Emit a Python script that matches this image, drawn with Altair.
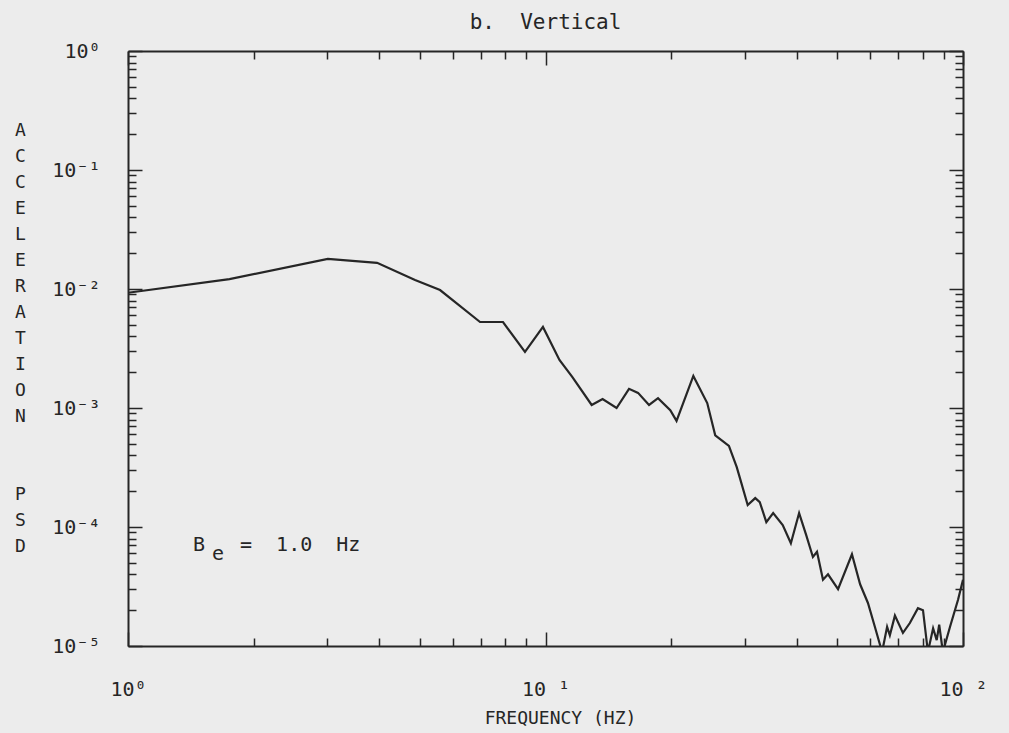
import altair as alt
import pandas as pd

# ---- data ----
freq = [1.0, 1.75, 3.01, 3.95, 4.87, 5.59, 6.97, 7.91, 8.93, 9.86, 10.8, 11.6,
        12.9, 13.7, 14.8, 15.85, 16.66, 17.7, 18.6, 19.9, 20.6, 22.6, 24.4, 25.5,
        27.5, 28.7, 29.2, 30.5, 31.8, 32.6, 33.8, 35.1, 37.0, 38.7, 40.5, 42.1,
        43.7, 44.7, 46.2, 47.5, 50.2, 54.2, 56.7, 59.2, 61.5, 64.0, 65.8, 66.8,
        68.7, 71.8, 74.6, 78.0, 80.2, 82.4, 84.8, 86.5, 87.7, 89.5, 93.1, 97.3, 100.0]
psd = [0.0093, 0.0121, 0.0179, 0.0166, 0.0119, 0.0098, 0.00528, 0.00528, 0.00296,
       0.0048, 0.00253, 0.00182, 0.00106, 0.00119, 0.00100, 0.00145, 0.00134,
       0.00106, 0.00121, 0.00096, 0.00078, 0.00186, 0.00110, 0.00059, 0.00048,
       0.00032, 0.00026, 0.000153, 0.000175, 0.000162, 0.000110, 0.000131,
       0.000104, 0.000073, 0.000131, 0.000086, 0.000056, 0.000062, 0.000036,
       0.000040, 0.000030, 0.000059, 0.000033, 0.000023, 0.0000145, 0.0000089,
       0.0000145, 0.0000123, 0.0000180, 0.0000129, 0.0000156, 0.0000208,
       0.0000200, 0.0000089, 0.0000141, 0.0000112, 0.0000151, 0.0000089,
       0.0000145, 0.0000245, 0.0000360]

x_domain = [1, 100]
y_domain = [1e-5, 1]
x_decades = [0, 1]
y_decades = [-5, -4, -3, -2, -1]
x_tick_labels = {1: "10\u2070", 10: "10 \u00b9", 100: "10 \u00b2"}
y_tick_labels = {1: "10\u2070", 0.1: "10\u207b\u00b9", 0.01: "10\u207b\u00b2",
                 0.001: "10\u207b\u00b3", 0.0001: "10\u207b\u2074", 0.00001: "10\u207b\u2075"}

chart_title = "b.\u00a0\u00a0Vertical"
x_title = "FREQUENCY (HZ)"
y_title = ["A", "C", "C", "E", "L", "E", "R", "A", "T", "I", "O", "N",
           "\u2800", "\u2800", "P", "S", "D"]
note_x = [1.431]
note_y = [7.06e-5]

# ---- styling ----
ink = "#262626"
bg = "#ececec"
font = "DejaVu Sans Mono"

xticks = [m * 10 ** e for e in x_decades for m in range(1, 10)] + [100]
yticks = [m * 10.0 ** e for e in y_decades for m in range(1, 10)] + [1]

df = pd.DataFrame({"freq": freq, "psd": psd})
notes = pd.DataFrame({"x": note_x, "y": note_y})

MAJOR = "abs(log(datum.value)/LN10 - round(log(datum.value)/LN10)) < 0.001"


def tsize(maj, mnr):
    return {"condition": {"test": MAJOR, "value": -maj}, "value": -mnr}


def label_expr(d):
    parts = [f"datum.value == {k} ? '{v}'" for k, v in d.items()]
    return " : ".join(parts) + " : ''"


xs = alt.Scale(type="log", domain=x_domain, nice=False)
ys = alt.Scale(type="log", domain=y_domain, nice=False)

common = dict(tickColor=ink, tickWidth=1.5, domain=True, domainColor=ink,
              domainWidth=2, grid=False, labelOverlap=False, labelFlush=False)

x_bottom = alt.Axis(orient="bottom", values=xticks, labelExpr=label_expr(x_tick_labels),
                    tickSize=tsize(14, 8), labelPadding=47, labelFont=font,
                    labelFontSize=20, labelColor=ink, title=x_title, titleFont=font,
                    titleFontSize=18, titleFontWeight="normal", titleColor=ink,
                    titleX=432, titleY=72, titleBaseline="middle", titleAlign="center",
                    **common)
y_left = alt.Axis(orient="left", values=yticks, labelExpr=label_expr(y_tick_labels),
                  tickSize=tsize(14, 8), labelPadding=42, labelFont=font,
                  labelFontSize=20, labelColor=ink, title=y_title, titleFont=font,
                  titleFontSize=18, titleFontWeight="normal", titleColor=ink,
                  titleAngle=0, titleX=-108, titleY=79, titleAlign="center",
                  titleBaseline="middle", titleLineHeight=26, **common)
x_top = alt.Axis(orient="top", values=xticks, labels=False, tickSize=tsize(14, 8),
                 title=None, **common)
y_right = alt.Axis(orient="right", values=yticks, labels=False, tickSize=tsize(14, 8),
                   title=None, **common)

line = alt.Chart(df).mark_line(color=ink, strokeWidth=2.2, clip=True).encode(
    x=alt.X("freq:Q", scale=xs, axis=x_bottom),
    y=alt.Y("psd:Q", scale=ys, axis=y_left),
)
ghost = alt.Chart(df).mark_line(strokeOpacity=0).encode(
    x=alt.X("freq:Q", scale=xs, axis=x_top),
    y=alt.Y("psd:Q", scale=ys, axis=y_right),
)

note_base = alt.Chart(notes).encode(x=alt.X("x:Q", scale=xs, axis=None),
                                    y=alt.Y("y:Q", scale=ys, axis=None))
note_b = note_base.mark_text(text="B", align="left", baseline="middle", font=font,
                             fontSize=20, color=ink)
note_e = note_base.mark_text(text="e", align="left", baseline="middle", font=font,
                             fontSize=20, color=ink, dx=19, dy=9)
note_rest = note_base.mark_text(text="=\u00a0\u00a01.0\u00a0\u00a0Hz", align="left",
                                baseline="middle", font=font, fontSize=20, color=ink, dx=47)

chart = alt.layer(line, ghost, note_b, note_e, note_rest).resolve_axis(
    x="independent", y="independent"
).properties(
    width=835, height=595,
    padding={"left": 128, "top": 51, "right": 46, "bottom": 87},
    autosize="none",
    title=alt.TitleParams(chart_title, font=font, fontSize=21, fontWeight="normal",
                          color=ink, anchor="middle", frame="group", baseline="bottom",
                          offset=17, dy=30),
).configure_view(strokeWidth=0).configure(background=bg)

chart.save("out.html", embed_options={"renderer": "svg", "actions": False})
